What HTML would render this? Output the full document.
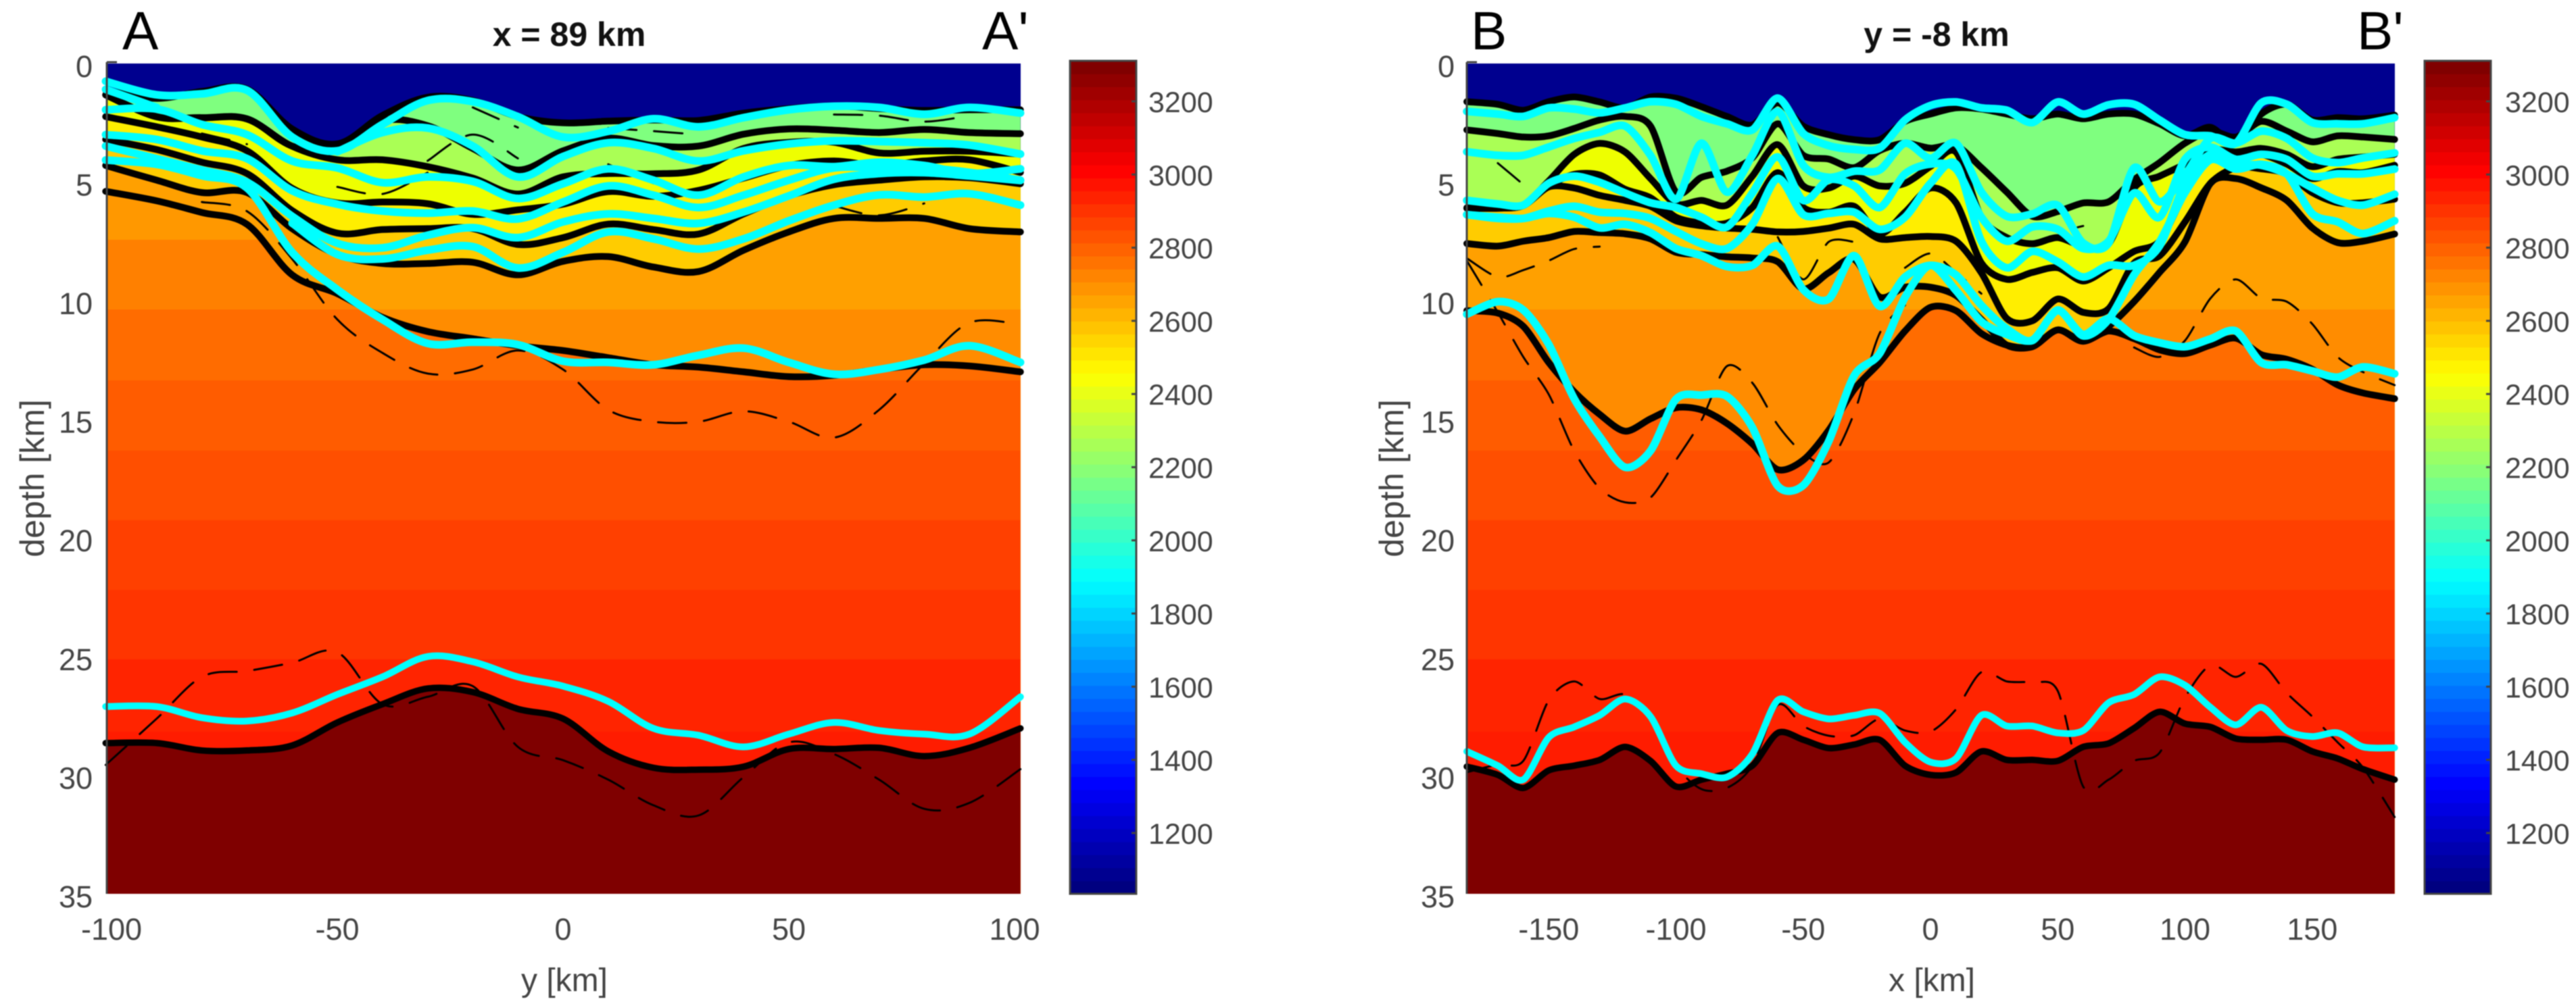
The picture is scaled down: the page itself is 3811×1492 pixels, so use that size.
<!DOCTYPE html>
<html>
<head>
<meta charset="utf-8">
<title>Depth cross-sections A-A' and B-B'</title>
<style>
html,body{margin:0;padding:0;background:#fff;width:3811px;height:1492px;overflow:hidden}
svg{display:block;filter:blur(0.7px)}
text{font-family:"Liberation Sans",sans-serif}
</style>
</head>
<body>
<svg id="chart" xmlns="http://www.w3.org/2000/svg" width="3811" height="1492" viewBox="0 0 3811 1492"></svg>
<script>
const n = null;
/* shared scales / tick labels */
const depthTicks = [0,5,10,15,20,25,30,35];
const leftDistTicks = [-100,-50,0,50,100];
const rightDistTicks = [-150,-100,-50,0,50,100,150];
const colorbarTicks = [1200,1400,1600,1800,2000,2200,2400,2600,2800,3000,3200];
const bandBottoms = [7.43,10.37,13.36,16.32,19.25,22.19,25.12,28.17,35];
const bandColors = ['#ff9800','#ff8000','#ff6c00','#ff5c00','#ff4f00','#ff4000','#ff3500','#ff2400','#ff1c00'];
const layerColors = ['#7fff7f','#aaff55','#eeff00','#ffee00','#ffcc00','#ffa000'];

/* section A-A' : x = 89 km */
const leftX = [-101.3,-90,-80,-70,-60,-50,-40,-30,-20,-10,0,10,20,30,40,50,60,70,80,90,101.3];
const leftB1 = [1.13,1.47,1.18,1.08,2.76,3.39,2.19,1.42,1.56,2.24,2.5,2.43,2.38,2.4,2.09,1.9,1.79,1.9,1.98,1.95,1.95];
const leftB2 = [1.32,2.24,2.28,2.33,3.48,3.63,2.43,2.62,3.58,4.49,3.68,3.15,3.46,3.48,2.98,2.76,2.81,2.91,2.78,2.91,2.96];
const leftB3 = [1.33,2.25,2.29,2.34,3.49,4.06,4.06,4.35,4.83,5.5,4.78,4.64,4.65,4.49,3.58,3.32,3.32,3.77,3.7,3.7,3.82];
const leftB4 = [2.24,2.67,3.1,3.68,5.26,5.88,5.84,5.91,6.36,6.17,5.93,5.4,5.6,5.35,4.83,4.3,4.11,4.3,4.11,4.06,4.59];
const leftB5 = [3.2,3.63,4.16,4.64,6.2,7.15,7.0,6.96,6.96,7.63,7.34,6.77,7.0,7.19,6.34,5.58,5.11,4.92,4.78,4.82,5.07];
const leftB6 = [4.3,4.92,5.44,5.44,6.96,8.05,8.43,8.43,8.38,8.91,8.34,8.14,8.58,8.77,7.87,7.1,6.53,6.53,6.53,6.96,7.1];
const leftB7 = [5.39,5.79,6.28,6.78,8.91,9.7,10.7,11.3,11.6,11.9,12.1,12.4,12.7,12.8,13.0,13.2,13.15,12.9,12.7,12.75,13.0];
const leftMoho = [28.65,28.65,28.96,28.96,28.75,27.78,27.01,26.35,26.5,27.21,27.62,29.0,29.69,29.77,29.64,28.9,28.9,28.85,29.2,28.85,28.03];
const leftC1 = [0.75,1.32,1.28,1.13,3.1,3.68,2.57,1.56,1.61,2.24,3.1,2.86,2.33,2.67,2.28,1.95,1.8,1.85,2.14,1.85,2.09];
const leftC2 = [n,n,n,n,n,3.72,2.91,2.72,3.48,4.78,3.92,3.34,3.58,4.11,3.68,3.39,3.26,3.29,3.34,3.44,3.82];
const leftC3 = [1.09,1.85,n,n,n,n,n,n,n,n,n,n,n,n,n,n,n,n,n,n,n];
const leftC4 = [1.95,1.92,2.57,3.0,4.11,4.4,5.02,4.78,4.97,5.69,5.07,4.44,4.92,5.55,4.78,4.3,4.35,4.16,4.3,4.64,4.44];
const leftC5 = [3.0,3.2,3.68,4.01,5.36,5.93,6.22,6.31,6.22,6.55,5.84,5.16,5.55,6.07,5.55,4.92,4.4,4.4,4.4,4.59,4.92];
const leftC6 = [3.48,4.01,4.49,5.0,6.44,7.58,7.77,7.24,6.92,7.34,6.68,6.34,6.53,6.74,6.26,5.58,4.88,4.64,4.6,4.74,4.93];
const leftC7 = [n,n,n,n,6.73,8.05,8.24,7.87,7.72,8.62,7.96,7.1,7.39,7.82,7.39,6.63,5.97,5.54,5.63,5.49,5.97];
const leftC8 = [4.07,4.25,4.73,5.25,7.96,9.53,10.79,11.8,11.75,11.85,12.55,12.6,12.7,12.3,12.0,12.6,13.1,12.9,12.5,11.9,12.6];
const leftCMoho = [27.11,27.11,27.58,27.72,27.38,26.6,25.86,25.0,25.22,25.86,26.25,26.89,28.03,28.32,28.81,28.27,27.78,28.12,28.27,28.27,26.7];
const leftDMoho = [29.57,27.62,25.86,25.61,25.26,24.82,27.01,26.7,26.25,28.81,29.37,30.19,31.27,31.7,30.08,28.62,29.11,30.19,31.42,31.17,29.75];
const leftDBase = [n,n,5.84,6.23,8.24,10.79,12.2,13.07,12.9,12.1,12.9,14.6,15.1,15.1,14.66,15.1,15.77,14.6,12.65,10.93,11.0];
const leftDU1 = [n,n,2.95,3.4,n,5.2,5.5,4.6,n,n,n,n,n,n,n,n,n,n,n,n,n];
const leftDU2 = [n,n,n,n,n,n,n,n,1.85,2.7,n,2.72,2.85,3.0,n,n,2.15,2.2,2.45,2.2,n];
const leftDU3 = [n,n,n,n,n,n,n,4.1,3.0,4.0,n,4.25,5.05,n,n,n,6.0,6.4,5.9,n,5.6];

/* section B-B' : y = -8 km */
const rightX = [-182.2,-170,-160,-150,-140,-130,-120,-110,-100,-90,-80,-70,-60,-50,-40,-30,-20,-10,0,10,20,30,40,50,60,70,80,90,100,110,120,130,140,150,160,170,182.4];
const rightB1 = [1.61,1.72,1.97,1.61,1.41,1.62,1.87,1.41,1.46,1.82,2.23,2.59,1.66,2.64,3.0,3.21,3.21,2.44,2.13,1.87,1.92,2.13,2.33,2.13,2.33,2.13,2.13,2.54,3.05,2.69,3.36,2.13,1.72,2.38,2.28,2.33,2.18];
const rightB2 = [2.8,2.95,3.1,3.05,2.74,2.38,2.23,2.64,5.42,4.8,4.54,3.98,2.54,3.87,4.03,4.39,3.67,3.36,3.57,3.46,4.39,5.42,6.44,6.24,5.88,5.83,4.9,4.18,3.36,2.85,3.1,2.44,2.85,3.3,3.05,3.1,3.2];
const rightB3 = [6.08,6.08,5.97,4.95,3.83,3.37,3.73,4.85,5.92,5.77,5.97,4.75,3.42,5.16,5.25,4.75,5.16,5.05,4.34,3.73,6.48,7.34,7.6,7.34,7.7,7.6,5.25,4.75,4.24,3.63,3.73,3.58,3.83,4.35,4.04,3.94,3.83];
const rightB4 = [6.1,6.1,5.99,5.16,4.67,4.7,5.3,5.66,6.48,6.73,6.73,6.07,4.6,6.07,6.27,6.02,7.18,6.27,5.25,5.87,8.41,9.1,8.81,8.61,9.17,8.61,7.92,7.49,5.46,3.94,3.83,3.83,4.24,4.85,4.55,4.6,4.29];
const rightB5 = [6.1,6.1,5.99,5.2,5.25,5.56,5.77,6.02,6.63,6.84,6.94,6.99,7.1,7.08,6.94,6.78,7.39,7.34,7.29,7.49,8.82,10.75,10.85,9.93,10.49,10.34,8.41,8.11,6.68,5.05,4.39,4.44,4.65,5.44,5.87,5.87,5.72];
const rightB6 = [7.59,7.7,7.49,7.34,7.08,7.13,7.18,7.39,7.96,8.05,8.15,8.2,8.36,9.5,8.82,8.25,9.84,9.43,9.43,9.78,10.79,11.87,11.94,11.23,11.71,11.08,10.04,8.81,7.52,5.05,4.85,5.24,5.77,6.93,7.55,7.49,7.19];
const rightB7 = [10.42,10.52,11.08,12.61,13.84,14.79,15.5,14.98,14.51,14.6,15.17,16.03,17.12,16.72,15.46,13.74,12.61,11.28,10.28,10.42,11.38,11.87,11.94,11.23,11.71,11.28,11.6,12.07,12.23,11.87,11.58,12.27,12.47,12.89,13.55,13.89,14.13];
const rightMoho = [29.64,29.99,30.54,29.8,29.6,29.36,28.81,29.4,30.48,30.19,29.94,29.6,28.22,28.51,28.86,28.71,28.51,29.6,29.99,29.89,29.0,29.36,29.36,29.4,28.81,28.66,28.02,27.33,27.83,27.97,28.46,28.51,28.51,29.0,29.3,29.75,30.19];
const rightC1 = [2.02,2.13,2.23,1.87,1.92,2.08,1.87,1.61,1.72,2.23,2.54,2.8,1.46,2.95,3.46,3.62,3.57,2.38,1.77,1.62,1.87,1.97,2.49,1.62,2.13,1.74,1.72,2.38,3.0,3.05,3.36,1.66,1.72,2.49,2.54,2.54,2.28];
const rightC2 = [3.72,3.87,3.87,3.52,3.16,2.9,2.64,3.87,5.72,3.36,5.42,3.87,2.02,4.29,4.8,4.54,4.49,3.36,4.0,3.36,5.42,6.44,6.34,5.98,7.57,7.57,4.4,5.83,4.7,3.16,3.36,2.85,3.16,3.98,4.18,3.98,3.77];
const rightC3 = [5.77,5.92,5.97,5.05,4.75,5.01,5.46,5.87,6.07,6.48,6.89,5.46,3.94,5.77,4.9,5.16,6.07,4.65,4.24,4.44,6.48,7.49,6.89,6.99,7.8,7.49,5.46,6.48,4.04,3.53,4.04,3.83,4.04,4.75,4.65,4.65,4.45];
const rightC4 = [6.37,6.53,6.53,6.22,6.02,6.27,6.32,6.53,7.08,7.6,7.8,6.78,4.85,6.37,6.32,6.27,6.99,6.48,5.05,4.24,7.49,8.61,7.92,8.36,9.0,8.51,8.51,7.7,5.05,3.83,4.24,4.29,4.65,5.24,5.77,5.97,5.51];
const rightC5 = [6.37,6.48,6.53,6.32,6.48,6.93,6.78,7.13,7.8,8.1,8.56,8.51,7.7,9.53,9.93,8.1,10.23,9.0,8.51,8.91,10.19,11.18,11.68,10.39,11.48,10.79,8.91,7.52,5.44,4.06,4.45,4.25,4.65,6.33,6.68,7.17,6.63];
const rightC6 = [10.57,10.04,10.39,11.84,14.13,15.73,17.02,16.33,14.15,13.98,14.03,15.34,17.81,17.78,15.93,13.16,12.23,9.86,8.51,9.57,10.88,11.42,11.66,10.42,11.42,10.76,11.47,11.77,11.94,11.61,11.28,12.61,12.7,12.96,13.22,12.79,13.08];
const rightCMoho = [29.0,29.6,30.19,28.41,27.97,27.48,26.79,27.53,29.6,29.94,30.08,29.11,26.84,27.33,27.63,27.48,27.39,28.62,29.45,29.3,27.48,27.93,27.93,28.22,28.12,26.95,26.6,25.86,26.21,27.14,27.88,27.14,28.12,28.37,28.22,28.81,28.85];
const rightDMoho = [29.88,29.55,29.4,26.84,26.05,26.79,26.6,27.53,29.6,30.59,30.54,29.6,27.04,27.93,28.34,28.32,27.63,28.12,28.17,27.23,25.66,26.05,26.1,26.45,30.48,30.19,29.4,29.06,26.74,25.37,25.86,25.31,26.54,27.53,28.62,29.69,31.77];
const rightDBase = [8.31,10.49,12.37,13.95,16.33,17.91,18.5,18.3,16.72,15.04,12.76,13.46,15.24,16.43,16.82,14.74,11.38,10.19,n,n,n,n,n,n,n,n,11.97,12.37,11.68,9.9,9.1,9.9,10.04,10.98,12.37,13.01,13.56];
const rightDU1 = [8.21,9.0,8.71,8.31,7.82,7.72,n,n,n,n,n,n,7.32,9.1,7.52,7.52,n,8.61,8.01,8.81,9.7,n,n,n,n,n,n,n,n,n,n,n,n,n,n,n,n];
const rightDU2 = [n,4.2,5.1,n,n,n,n,n,n,n,n,n,n,n,n,n,n,n,n,n,n,n,6.85,7.05,6.85,n,n,n,n,n,n,n,n,n,n,n,n];

const SVGNS = 'http://www.w3.org/2000/svg';
const root = document.getElementById('chart');
const PLOT_TOP = 94;
const PLOT_BOTTOM = 1323;
const depthY = d => PLOT_TOP + 35.11 * d;
const colorY = v => 150 + (3200 - v) * 0.5415;

function mk(tag, attrs, parent) {
  const el = document.createElementNS(SVGNS, tag);
  for (const k in attrs) el.setAttribute(k, attrs[k]);
  (parent || root).appendChild(el);
  return el;
}
function curve(pts, tension) {
  let s = 'M' + pts[0][0].toFixed(1) + ' ' + pts[0][1].toFixed(1);
  for (let i = 0; i < pts.length - 1; i++) {
    const p0 = pts[Math.max(i - 1, 0)], p1 = pts[i], p2 = pts[i + 1], p3 = pts[Math.min(i + 2, pts.length - 1)];
    const c1x = p1[0] + (p2[0] - p0[0]) / tension, c1y = p1[1] + (p2[1] - p0[1]) / tension;
    const c2x = p2[0] - (p3[0] - p1[0]) / tension, c2y = p2[1] - (p3[1] - p1[1]) / tension;
    s += 'C' + c1x.toFixed(1) + ' ' + c1y.toFixed(1) + ' ' + c2x.toFixed(1) + ' ' + c2y.toFixed(1) + ' ' + p2[0].toFixed(1) + ' ' + p2[1].toFixed(1);
  }
  return s;
}
function linePath(xs, ds, sx, tension) {
  let out = '', run = [];
  for (let i = 0; i <= ds.length; i++) {
    if (i < ds.length && ds[i] !== null) { run.push([sx(xs[i]), depthY(ds[i])]); }
    else { if (run.length > 1) out += curve(run, tension); run = []; }
  }
  return out;
}
function belowPath(xs, ds, sx, tension) {
  return linePath(xs, ds, sx, tension) + 'L' + sx(xs[xs.length - 1]).toFixed(1) + ' 1420L' + sx(xs[0]).toFixed(1) + ' 1420Z';
}
function label(txt, x, y, size, anchor, fill, weight, parent) {
  const t = mk('text', {x: x, y: y, 'font-size': size, 'text-anchor': anchor, fill: fill, 'font-weight': weight || 'normal'}, parent);
  t.textContent = txt;
  return t;
}
function jet(t) {
  const c = v => Math.round(255 * Math.max(0, Math.min(1, v)));
  return 'rgb(' + c(Math.min(4 * t - 1.5, -4 * t + 4.5)) + ',' + c(Math.min(4 * t - 0.5, -4 * t + 3.5)) + ',' + c(Math.min(4 * t + 0.5, -4 * t + 2.5)) + ')';
}

function drawPanel(p) {
  const sx = v => p.x0 + p.k * v;
  const plotH = PLOT_BOTTOM - PLOT_TOP;
  const g = mk('g', {});
  
  
  const clipId = p.id + '-plot-clip';
  const defs = mk('defs', {}, g);
  const cp = mk('clipPath', {id: clipId}, defs);
  mk('rect', {x: p.left, y: PLOT_TOP, width: p.right - p.left, height: plotH}, cp);
  const sedClip = mk('clipPath', {id: p.id + '-sed-clip'}, defs);
  mk('path', {d: belowPath(p.xs, p.black[5], sx, p.tension)}, sedClip);
  const baseClip = mk('clipPath', {id: p.id + '-base-clip'}, defs);
  mk('path', {d: belowPath(p.xs, p.black[6], sx, p.tension)}, baseClip);

  const fills = mk('g', {'clip-path': 'url(#' + clipId + ')'}, g);
  const water = mk('rect', {x: p.left, y: PLOT_TOP, width: p.right - p.left, height: plotH, fill: '#00008f'}, fills);
  
  
  layerColors.forEach((col, i) => {
    const layer = mk('path', {d: belowPath(p.xs, p.black[i], sx, p.tension), fill: col}, fills);
    
    
  });
  const sedLow = mk('rect', {x: p.left, y: depthY(bandBottoms[1]), width: p.right - p.left, height: 1000, fill: '#ff8c00', 'clip-path': 'url(#' + p.id + '-sed-clip)'}, fills);
  
  
  const crust = mk('g', {'clip-path': 'url(#' + p.id + '-base-clip)'}, fills);
  let top = 0;
  bandBottoms.forEach((b, i) => {
    const r = mk('rect', {x: p.left, y: depthY(top), width: p.right - p.left, height: depthY(b) - depthY(top) + 0.5, fill: bandColors[i]}, crust);
    
    
    top = b;
  });
  const mantle = mk('path', {d: belowPath(p.xs, p.moho, sx, p.tension), fill: '#7f0000'}, fills);
  
  

  const lines = mk('g', {fill: 'none', 'stroke-linejoin': 'round', 'stroke-linecap': 'round'}, g);
  p.dashed.forEach(ds => {
    const el = mk('path', {d: linePath(p.xs, ds, sx, p.tension), stroke: '#000', 'stroke-width': 3, 'stroke-dasharray': '42 26'}, lines);
    
    
  });
  p.black.forEach(ds => {
    const el = mk('path', {d: linePath(p.xs, ds, sx, p.tension), stroke: '#000', 'stroke-width': 10}, lines);
    
    
  });
  const mohoLine = mk('path', {d: linePath(p.xs, p.moho, sx, p.tension), stroke: '#000', 'stroke-width': 9.5}, lines);
  
  
  p.cyan.forEach(ds => {
    const el = mk('path', {d: linePath(p.xs, ds, sx, p.tension), stroke: '#00ffff', 'stroke-width': 11.5}, lines);
    
    
  });
  const mohoCyan = mk('path', {d: linePath(p.xs, p.cyanMoho, sx, p.tension), stroke: '#00ffff', 'stroke-width': 10}, lines);
  
  

  const axis = mk('path', {d: 'M' + p.left + ' 92V' + PLOT_BOTTOM + 'M' + p.left + ' 92H' + (p.left + 15), stroke: '#444', 'stroke-width': 3, fill: 'none'}, g);
  
  

  depthTicks.forEach(d => {
    const t = label(String(d), p.yLabelX, depthY(d) + 20, 45, 'end', '#444', 'normal', g);
    
    
  });
  p.ticks.forEach(v => {
    const t = label(String(v), sx(v), 1391, 45, 'middle', '#444', 'normal', g);
    
    
  });
  const xt = label(p.xTitle, p.xTitleX, 1467, 48, 'middle', '#444', 'normal', g);
  
  
  const yt = label('depth [km]', 0, 0, 50, 'middle', '#444', 'normal', g);
  yt.setAttribute('transform', 'translate(' + p.yTitleX + ' 708) rotate(-90)');
  
  
  const title = label(p.title, p.titleX, 68, 50, 'middle', '#111', 'bold', g);
  
  
  const a = label(p.startMark, p.startX, 73, 80, 'start', '#000', 'normal', g);
  
  
  const b = label(p.endMark, p.endX, 73, 80, 'start', '#000', 'normal', g);
  
  

  const cb = mk('g', {}, g);
  
  
  const cbH = (PLOT_BOTTOM - p.cbTop) / 64;
  for (let i = 0; i < 64; i++) {
    const r = mk('rect', {x: p.cbX, y: PLOT_BOTTOM - (i + 1) * cbH, width: 98, height: cbH + 0.5, fill: jet(i / 63)}, cb);
    
    
  }
  const frame = mk('rect', {x: p.cbX, y: p.cbTop, width: 98, height: PLOT_BOTTOM - p.cbTop, fill: 'none', stroke: '#444', 'stroke-width': 3}, cb);
  
  
  colorbarTicks.forEach(v => {
    const tk = mk('line', {x1: p.cbX + 91, x2: p.cbX + 98, y1: colorY(v), y2: colorY(v), stroke: '#444', 'stroke-width': 3}, cb);
    
    
    const t = label(String(v), p.cbLabelX, colorY(v) + 16, 43, 'start', '#444', 'normal', cb);
    
    
  });
}

drawPanel({
  id: 'a', x0: 833, k: 6.68, left: 158, right: 1510, xs: leftX, tension: 6,
  black: [leftB1,leftB2,leftB3,leftB4,leftB5,leftB6,leftB7], moho: leftMoho,
  cyan: [leftC1,leftC2,leftC3,leftC4,leftC5,leftC6,leftC7,leftC8], cyanMoho: leftCMoho,
  dashed: [leftDMoho,leftDBase,leftDU1,leftDU2,leftDU3],
  ticks: leftDistTicks, yLabelX: 137, xTitle: 'y [km]', xTitleX: 835, yTitleX: 65,
  title: 'x = 89 km', titleX: 842, startMark: 'A', startX: 181, endMark: "A'", endX: 1453,
  cbX: 1583, cbTop: 90, cbLabelX: 1699
});
drawPanel({
  id: 'b', x0: 2856, k: 3.765, left: 2170, right: 3543, xs: rightX, tension: 7,
  black: [rightB1,rightB2,rightB3,rightB4,rightB5,rightB6,rightB7], moho: rightMoho,
  cyan: [rightC1,rightC2,rightC3,rightC4,rightC5,rightC6], cyanMoho: rightCMoho,
  dashed: [rightDMoho,rightDBase,rightDU1,rightDU2],
  ticks: rightDistTicks, yLabelX: 2152, xTitle: 'x [km]', xTitleX: 2858, yTitleX: 2076,
  title: 'y = -8 km', titleX: 2865, startMark: 'B', startX: 2176, endMark: "B'", endX: 3487,
  cbX: 3587, cbTop: 90, cbLabelX: 3706
});
</script>
</body>
</html>
